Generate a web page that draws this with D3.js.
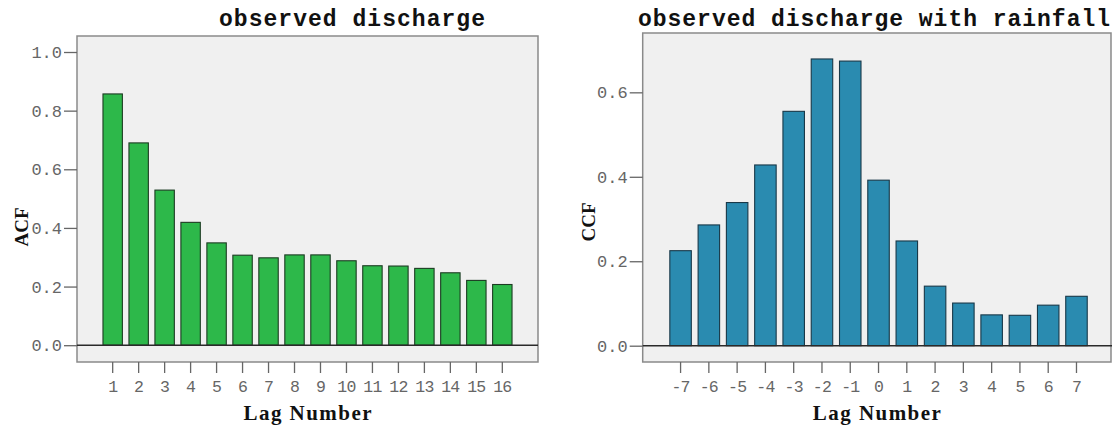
<!DOCTYPE html>
<html>
<head>
<meta charset="utf-8">
<script src="https://cdn.jsdelivr.net/npm/d3@7"></script>
<style>
  html, body { margin: 0; padding: 0; background: #fff; }
  svg { display: block; }
</style>
</head>
<body>
<svg id="chart" width="1112" height="427"></svg>
<script>
// ---- data ----
const acfLags = [1,2,3,4,5,6,7,8,9,10,11,12,13,14,15,16];
const acfValues = [0.857,0.690,0.529,0.419,0.349,0.307,0.298,0.308,0.308,0.288,0.271,0.270,0.262,0.247,0.221,0.207];
const acfTicks = [0.0,0.2,0.4,0.6,0.8,1.0];

const ccfLags = [-7,-6,-5,-4,-3,-2,-1,0,1,2,3,4,5,6,7];
const ccfValues = [0.225,0.286,0.339,0.428,0.555,0.679,0.674,0.392,0.248,0.141,0.101,0.073,0.072,0.096,0.117];
const ccfTicks = [0.0,0.2,0.4,0.6];

const titles = ["observed discharge", "observed discharge with rainfall"];
const yLabels = ["ACF", "CCF"];
const xLabel = "Lag Number";

const svg = d3.select("#chart");

function panel(cfg) {
  const g = svg.append("g");
  const x = d3.scaleBand().domain(cfg.lags).range([cfg.left, cfg.right])
    .paddingInner(cfg.pi).paddingOuter(cfg.po).align(cfg.align);
  const y = d3.scaleLinear().domain(cfg.yDomain).range([cfg.bottom, cfg.top]);

  // plot background
  g.append("rect")
    .attr("x", cfg.left).attr("y", cfg.top)
    .attr("width", cfg.right - cfg.left).attr("height", cfg.bottom - cfg.top)
    .attr("fill", "#f0f0f0").attr("stroke", "#8a8a8a").attr("stroke-width", 1.5);

  // bars
  g.selectAll("rect.bar").data(cfg.values).join("rect")
    .attr("class", "bar")
    .attr("x", (d, i) => x(cfg.lags[i]))
    .attr("width", x.bandwidth())
    .attr("y", d => y(d))
    .attr("height", d => y(0) - y(d))
    .attr("fill", cfg.color)
    .attr("stroke", cfg.stroke)
    .attr("stroke-width", 1.1);

  // zero line
  g.append("line")
    .attr("x1", cfg.left).attr("x2", cfg.zeroEnd)
    .attr("y1", y(0)).attr("y2", y(0))
    .attr("stroke", "#2a2a2a").attr("stroke-width", 1.5);

  // y axis
  const yAxis = d3.axisLeft(y).tickValues(cfg.ticks).tickSize(13).tickPadding(2)
    .tickFormat(d3.format(".1f"));
  const ya = g.append("g").attr("transform", `translate(${cfg.left},0)`).call(yAxis);
  ya.select(".domain").remove();
  ya.selectAll(".tick line").attr("stroke", "#666").attr("stroke-width", 1.3);
  ya.selectAll(".tick text").attr("fill", "#666")
    .style("font-family", "'Liberation Mono', monospace").style("font-size", "17px");

  // x axis
  const xAxis = d3.axisBottom(x).tickSize(11).tickPadding(7);
  const xa = g.append("g").attr("transform", `translate(0,${cfg.bottom})`).call(xAxis);
  xa.select(".domain").remove();
  xa.selectAll(".tick line").attr("stroke", "#666").attr("stroke-width", 1.3);
  xa.selectAll(".tick text").attr("fill", "#666")
    .style("font-family", "'Liberation Mono', monospace").style("font-size", "16.5px")
    .style("letter-spacing", "-0.8px");

  // title
  g.append("text")
    .attr("x", cfg.titleX).attr("y", 26)
    .attr("text-anchor", "middle")
    .attr("textLength", cfg.titleLen).attr("lengthAdjust", "spacing")
    .style("font-family", "'Liberation Mono', monospace")
    .style("font-weight", "bold").style("font-size", "23px")
    .attr("fill", "#111")
    .text(cfg.title);

  // x label
  g.append("text")
    .attr("x", (cfg.left + cfg.right) / 2).attr("y", 420)
    .attr("text-anchor", "middle")
    .attr("textLength", 128).attr("lengthAdjust", "spacing")
    .style("font-family", "'Liberation Serif', serif")
    .style("font-weight", "bold").style("font-size", "21px")
    .attr("fill", "#111")
    .text(xLabel);

  // y label
  g.append("text")
    .attr("transform", `translate(${cfg.yLabX},${cfg.yLabY}) rotate(-90)`)
    .attr("text-anchor", "middle")
    .style("font-family", "'Liberation Serif', serif")
    .style("font-weight", "bold").style("font-size", "19px")
    .attr("fill", "#111")
    .text(cfg.yLabel);
}

panel({
  lags: acfLags, values: acfValues, ticks: acfTicks,
  left: 77, right: 538, top: 36, bottom: 362,
  yDomain: [-0.0573, 1.0546],
  pi: 0.253, po: 1.0, align: 0.5,
  color: "#2db84a", stroke: "#1c3b22",
  zeroEnd: 538,
  title: titles[0], titleX: 352, titleLen: 266,
  yLabel: yLabels[0], yLabX: 28, yLabY: 227
});

panel({
  lags: ccfLags, values: ccfValues, ticks: ccfTicks,
  left: 642.7, right: 1111, top: 33, bottom: 362,
  yDomain: [-0.0386, 0.7405],
  pi: 0.24, po: 0.9, align: 0.533,
  color: "#2a8bb0", stroke: "#183848",
  zeroEnd: 1112,
  title: titles[1], titleX: 874, titleLen: 472,
  yLabel: yLabels[1], yLabX: 595, yLabY: 222
});
</script>
</body>
</html>
